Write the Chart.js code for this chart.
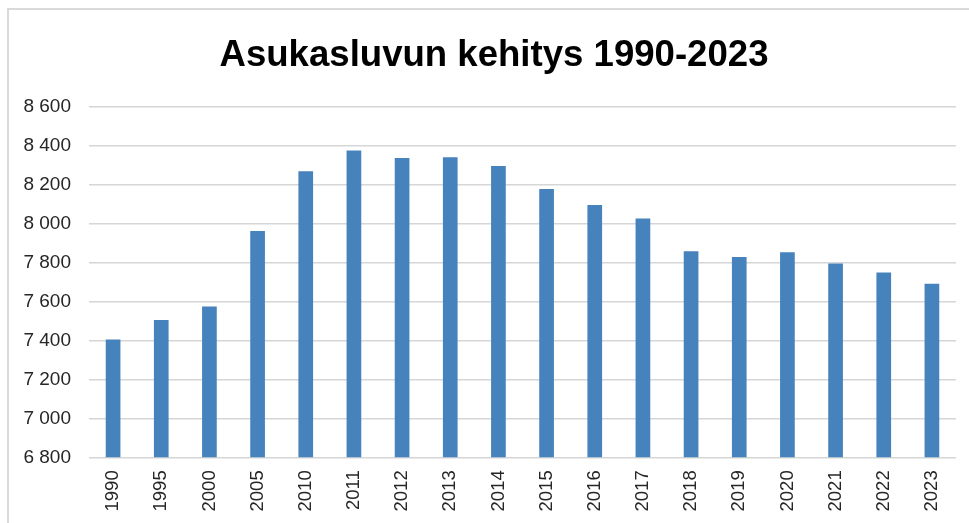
<!DOCTYPE html>
<html>
<head>
<meta charset="utf-8">
<script src="https://cdn.jsdelivr.net/npm/chart.js@4.4.1/dist/chart.umd.min.js"></script>
<style>
  html, body { margin: 0; padding: 0; background: #ffffff; overflow: hidden; }
  #frame { position: absolute; left: 7px; top: 8px; width: 980px; height: 540px;
           border-left: 2px solid #d9d9d9; border-top: 2px solid #d9d9d9; box-sizing: border-box; }
  #wrap { position: absolute; left: 0; top: 0; width: 969px; height: 523px; }
</style>
</head>
<body>
<div id="frame"></div>
<div id="wrap"><canvas id="c" width="969" height="523"></canvas></div>
<script>
const chartTitle = 'Asukasluvun kehitys 1990-2023';
const years = ['1990','1995','2000','2005','2010','2011','2012','2013','2014','2015','2016','2017','2018','2019','2020','2021','2022','2023'];
const population = [7405, 7505, 7575, 7962, 8270, 8376, 8337, 8342, 8296, 8178, 8096, 8027, 7858, 7829, 7853, 7795, 7749, 7691];
const yTickValues = [6800, 7000, 7200, 7400, 7600, 7800, 8000, 8200, 8400, 8600];
const yTickLabels = ['6 800', '7 000', '7 200', '7 400', '7 600', '7 800', '8 000', '8 200', '8 400', '8 600'];

const titleShift = {
  id: 'titleShift',
  afterLayout(chart) {
    const t = chart.titleBlock;
    if (t) { t.left += 16; t.right += 16; }
  }
};

const ctx = document.getElementById('c').getContext('2d');
new Chart(ctx, {
  type: 'bar',
  data: {
    labels: years,
    datasets: [{
      label: 'Asukasluku',
      data: population,
      backgroundColor: '#4683BD',
      borderWidth: 0,
      barPercentage: 0.61,
      categoryPercentage: 0.5
    }]
  },
  plugins: [titleShift],
  options: {
    responsive: false,
    animation: false,
    devicePixelRatio: 1,
    layout: { padding: { left: 0, right: 13, top: 0, bottom: 0 } },
    plugins: {
      legend: { display: false },
      tooltip: { enabled: false },
      title: {
        display: true,
        text: chartTitle,
        color: '#000000',
        font: { family: 'Liberation Sans', size: 36.6, weight: 'bold', lineHeight: 1.2 },
        padding: { top: 34, bottom: 29 }
      }
    },
    scales: {
      x: {
        grid: { display: false, drawTicks: false },
        border: { display: false },
        ticks: {
          minRotation: 90, maxRotation: 90, autoSkip: false,
          padding: 13,
          color: '#262626',
          font: { family: 'Liberation Sans', size: 18.5 }
        },
        afterFit: (s) => { s.height = 65.7; }
      },
      y: {
        min: 6800, max: 8600,
        grid: { color: '#d6d6d6', lineWidth: 1.5, drawTicks: false },
        border: { display: false },
        afterBuildTicks: (s) => { s.ticks = yTickValues.map(v => ({ value: v })); },
        ticks: {
          padding: 18,
          color: '#262626',
          font: { family: 'Liberation Sans', size: 19 },
          callback: (v) => yTickLabels[yTickValues.indexOf(v)]
        },
        afterFit: (s) => { s.width = 89; }
      }
    }
  }
});
</script>
</body>
</html>
